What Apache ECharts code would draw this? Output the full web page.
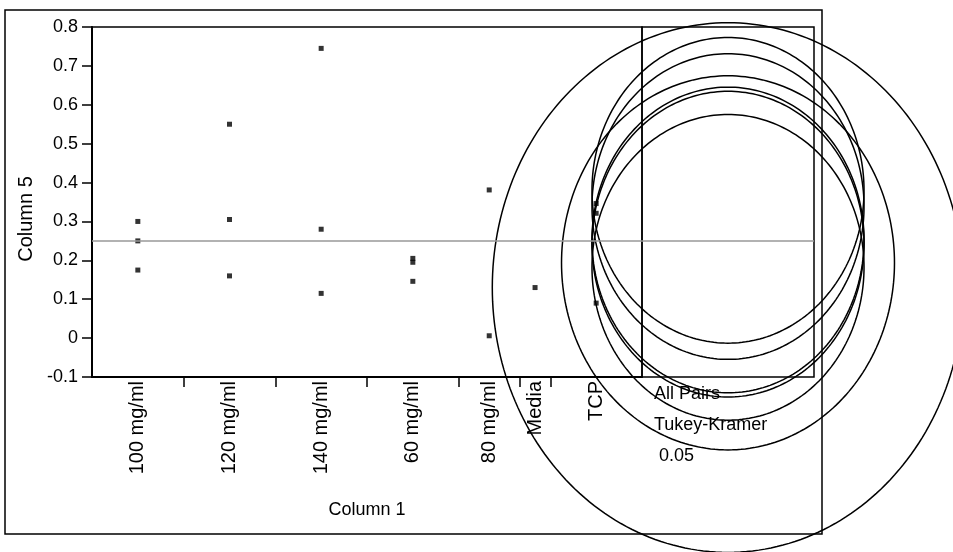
<!DOCTYPE html>
<html>
<head>
<meta charset="utf-8">
<script src="https://cdn.jsdelivr.net/npm/echarts@6/dist/echarts.min.js"></script>
<style>
  html, body { margin: 0; padding: 0; background: #fff; }
  #chart { width: 953px; height: 552px; }
</style>
</head>
<body>
<div id="chart"></div>
<script>
// Groups along the x axis (Column 1) and their observed responses (Column 5)
const groups = ['100 mg/ml', '120 mg/ml', '140 mg/ml', '60 mg/ml', '80 mg/ml', 'Media', 'TCP'];
const vals100 = [0.300, 0.250, 0.175];
const vals120 = [0.550, 0.305, 0.160];
const vals140 = [0.745, 0.280, 0.115];
const vals60  = [0.205, 0.195, 0.146];
const vals80  = [0.381, 0.006];
const valsMedia = [0.130];
const valsTCP = [0.346, 0.321, 0.090];
const groupValues = [vals100, vals120, vals140, vals60, vals80, valsMedia, valsTCP];

// Comparison circle radii (Column 5 units), one per group
const circleRadius = [0.393, 0.393, 0.393, 0.393, 0.481, 0.681, 0.393];
// Overall mean line
const grandMean = 0.254;

// Y axis range and step
const yMin = -0.1, yMax = 0.8, yStep = 0.1;

// Caption inside the comparison circle panel
const captionLines = ['All Pairs', 'Tukey-Kramer', '0.05'];

const FONT = 'Liberation Sans, Arial, sans-serif';

// Each group takes horizontal room in proportion to its count
const starts = [];
let acc = 0;
groupValues.forEach(v => { starts.push(acc); acc += v.length; });
const total = acc;
const centers = groupValues.map((v, i) => starts[i] + v.length / 2);
const boundaries = starts.slice(1);
const centerName = {};
centers.forEach((c, i) => { centerName[c.toFixed(3)] = groups[i]; });

const points = [];
groupValues.forEach((vals, i) => vals.forEach(v => points.push([centers[i], v])));

const means = groupValues.map(v => v.reduce((a, b) => a + b, 0) / v.length);
const circleData = means.map((m, i) => [0, m, circleRadius[i]]);

const chart = echarts.init(document.getElementById('chart'), null, { renderer: 'canvas' });

const axisText = { color: '#000', fontFamily: FONT, fontSize: 18 };

chart.setOption({
  animation: false,
  backgroundColor: '#fff',
  grid: [
    { left: 92, top: 27, width: 550, height: 350, show: true, borderColor: '#000', borderWidth: 1.5, backgroundColor: 'transparent' },
    { left: 642, top: 27, width: 172, height: 350, show: true, borderColor: '#000', borderWidth: 1.5, backgroundColor: 'transparent' }
  ],
  xAxis: [
    {
      type: 'value', gridIndex: 0, min: 0, max: total,
      name: 'Column 1', nameLocation: 'middle', nameGap: 124,
      nameTextStyle: axisText,
      axisLine: { show: true, onZero: false, lineStyle: { color: '#000', width: 2 } },
      axisTick: { show: true, length: 10, lineStyle: { color: '#000', width: 1.5 }, customValues: boundaries },
      axisLabel: {
        show: true, rotate: 90, margin: 4, color: '#000', fontFamily: FONT, fontSize: 20,
        customValues: centers,
        formatter: v => centerName[Number(v).toFixed(3)] || ''
      },
      splitLine: { show: false }
    },
    {
      type: 'value', gridIndex: 1, min: -1, max: 1, show: false
    }
  ],
  yAxis: [
    {
      type: 'value', gridIndex: 0, min: yMin, max: yMax, interval: yStep,
      name: 'Column 5', nameLocation: 'middle', nameGap: 49, nameRotate: 90,
      nameTextStyle: { color: '#000', fontFamily: FONT, fontSize: 20, padding: [0, 34, 0, 0] },
      axisLine: { show: true, onZero: false, lineStyle: { color: '#000', width: 2 } },
      axisTick: { show: true, length: 10, lineStyle: { color: '#000', width: 1.5 } },
      axisLabel: {
        margin: 14, color: '#000', fontFamily: FONT, fontSize: 18,
        formatter: v => String(Math.round(v * 10) / 10)
      },
      splitLine: { show: false }
    },
    {
      type: 'value', gridIndex: 1, min: yMin, max: yMax, interval: yStep, show: false
    }
  ],
  series: [
    {
      type: 'scatter', xAxisIndex: 0, yAxisIndex: 0,
      symbol: 'rect', symbolSize: 5,
      itemStyle: { color: '#000' },
      data: points,
      markLine: {
        silent: true, symbol: 'none', label: { show: false },
        lineStyle: { color: '#999', width: 1.5, type: 'solid' },
        data: [{ yAxis: grandMean }]
      },
      z: 3
    },
    {
      type: 'custom', xAxisIndex: 1, yAxisIndex: 1, clip: false,
      data: circleData,
      renderItem: function (params, api) {
        const c = api.coord([api.value(0), api.value(1)]);
        const ry = api.size([0, api.value(2)])[1];
        const rx = ry * 0.89;
        const pts = [];
        const N = 240;
        for (let k = 0; k < N; k++) {
          const t = (k / N) * Math.PI * 2;
          pts.push([c[0] + rx * Math.cos(t), c[1] + ry * Math.sin(t)]);
        }
        return {
          type: 'polygon',
          shape: { points: pts },
          style: { fill: 'none', stroke: '#000', lineWidth: 1.5 }
        };
      },
      markLine: {
        silent: true, symbol: 'none', label: { show: false },
        lineStyle: { color: '#999', width: 1.5, type: 'solid' },
        data: [{ yAxis: grandMean }]
      },
      z: 4
    }
  ],
  graphic: [
    {
      type: 'rect', z: 0, silent: true,
      shape: { x: 5, y: 10, width: 817, height: 524 },
      style: { fill: 'none', stroke: '#000', lineWidth: 1.5 }
    },
    {
      type: 'text', left: 654, top: 385, silent: true,
      style: { text: captionLines[0], fill: '#000', font: '18px ' + FONT }
    },
    {
      type: 'text', left: 654, top: 416, silent: true,
      style: { text: captionLines[1], fill: '#000', font: '18px ' + FONT }
    },
    {
      type: 'text', left: 659, top: 447, silent: true,
      style: { text: captionLines[2], fill: '#000', font: '18px ' + FONT }
    }
  ]
});
</script>
</body>
</html>
